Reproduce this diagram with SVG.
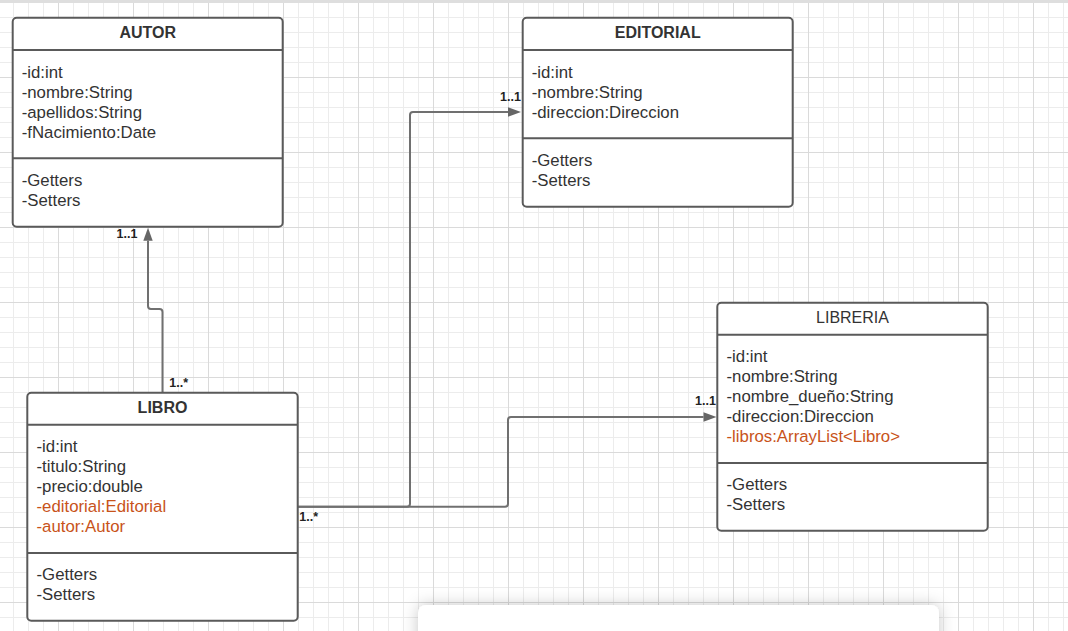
<svg xmlns="http://www.w3.org/2000/svg" width="1068" height="631" viewBox="0 0 1068 631">
<defs>
<pattern id="minor" patternUnits="userSpaceOnUse" x="13" y="2" width="15" height="15">
<path d="M0.5,0 V15 M0,0.5 H15" stroke="#ececec" stroke-width="1" fill="none"/>
</pattern>
<pattern id="major" patternUnits="userSpaceOnUse" x="58" y="2" width="75" height="75">
<path d="M0.5,0 V75 M0,0.5 H75" stroke="#dadada" stroke-width="1" fill="none"/>
</pattern>
<marker id="arr" markerUnits="userSpaceOnUse" markerWidth="14" markerHeight="10" viewBox="0 0 13 10" refX="0" refY="5" orient="auto">
<path d="M0,0.3 L13,5 L0,9.7 z" fill="#666"/>
</marker>
<filter id="sh" x="-10%" y="-60%" width="120%" height="220%">
<feDropShadow dx="0" dy="0" stdDeviation="8" flood-color="#000" flood-opacity="0.22"/>
</filter>
</defs>
<style>
.box{fill:#fff;stroke:#5a5a5a;stroke-width:2}
.div{stroke:#5a5a5a;stroke-width:2;fill:none}
.t{font-family:"Liberation Sans",Arial,sans-serif;font-size:16.8px;fill:#333}
.o{fill:#c8531a}
.h{font-family:"Liberation Sans",Arial,sans-serif;font-size:16px;fill:#333;text-anchor:middle}
.b{font-weight:bold}
.c{fill:none;stroke:#707070;stroke-width:2}
.l{font-family:"Liberation Sans",Arial,sans-serif;font-size:12.5px;font-weight:bold;fill:#222}
</style>
<rect x="0" y="0" width="1068" height="631" fill="#fff"/>
<rect x="0" y="0" width="1068" height="631" fill="url(#minor)"/>
<rect x="0" y="0" width="1068" height="631" fill="url(#major)"/>
<rect x="0" y="0" width="1068" height="3" fill="#dedede"/>

<g id="connectors">
<path class="c" d="M162.5,392.7 V312 Q162.5,309 159.5,309 H151 Q148,309 148,306 V240.7" marker-end="url(#arr)"/>
<path class="c" d="M297.7,506.7 H407 Q410,506.7 410,503.7 V115 Q410,112 413,112 H508" marker-end="url(#arr)"/>
<path class="c" d="M297.7,506.7 H505 Q508,506.7 508,503.7 V420 Q508,417 511,417 H703.5" marker-end="url(#arr)"/>
<text class="l" x="116.5" y="238.3">1..1</text>
<text class="l" x="169.3" y="386.5">1..*</text>
<text class="l" x="500" y="100.5">1..1</text>
<text class="l" x="695" y="404.5">1..1</text>
<text class="l" x="299.3" y="520.7">1..*</text>
</g>

<g id="autor">
<rect class="box" x="12.7" y="17.7" width="270" height="209" rx="4"/>
<path class="div" d="M12.7,50 H282.7 M12.7,158.3 H282.7"/>
<text class="h b" x="147.7" y="37.7">AUTOR</text>
<text class="t" x="21.7" y="77.5">-id:int</text>
<text class="t" x="21.7" y="97.5">-nombre:String</text>
<text class="t" x="21.7" y="117.5">-apellidos:String</text>
<text class="t" x="21.7" y="137.5">-fNacimiento:Date</text>
<text class="t" x="21.7" y="185.7">-Getters</text>
<text class="t" x="21.7" y="205.7">-Setters</text>
</g>

<g id="editorial">
<rect class="box" x="522.7" y="17.7" width="270" height="189" rx="4"/>
<path class="div" d="M522.7,50 H792.7 M522.7,138.3 H792.7"/>
<text class="h b" x="657.7" y="37.7">EDITORIAL</text>
<text class="t" x="531.7" y="77.5">-id:int</text>
<text class="t" x="531.7" y="97.5">-nombre:String</text>
<text class="t" x="531.7" y="117.5">-direccion:Direccion</text>
<text class="t" x="531.7" y="165.7">-Getters</text>
<text class="t" x="531.7" y="185.7">-Setters</text>
</g>

<g id="libreria">
<rect class="box" x="717.3" y="302.7" width="270.4" height="228" rx="4"/>
<path class="div" d="M717.3,334.7 H987.7 M717.3,463 H987.7"/>
<text class="h" x="852.5" y="322.7">LIBRERIA</text>
<text class="t" x="726.5" y="362.2">-id:int</text>
<text class="t" x="726.5" y="382.2">-nombre:String</text>
<text class="t" x="726.5" y="402.2">-nombre_dueño:String</text>
<text class="t" x="726.5" y="422.2">-direccion:Direccion</text>
<text class="t o" x="726.5" y="442.2">-libros:ArrayList&lt;Libro&gt;</text>
<text class="t" x="726.5" y="490.4">-Getters</text>
<text class="t" x="726.5" y="510.4">-Setters</text>
</g>

<g id="libro">
<rect class="box" x="27.3" y="392.7" width="270.4" height="228" rx="4"/>
<path class="div" d="M27.3,424.7 H297.7 M27.3,553 H297.7"/>
<text class="h b" x="162.5" y="412.7">LIBRO</text>
<text class="t" x="36.5" y="452.2">-id:int</text>
<text class="t" x="36.5" y="472.2">-titulo:String</text>
<text class="t" x="36.5" y="492.2">-precio:double</text>
<text class="t o" x="36.5" y="512.2">-editorial:Editorial</text>
<text class="t o" x="36.5" y="532.2">-autor:Autor</text>
<text class="t" x="36.5" y="580.4">-Getters</text>
<text class="t" x="36.5" y="600.4">-Setters</text>
</g>

<rect x="418" y="605" width="521" height="50" rx="8" fill="#fff" filter="url(#sh)"/>
</svg>
